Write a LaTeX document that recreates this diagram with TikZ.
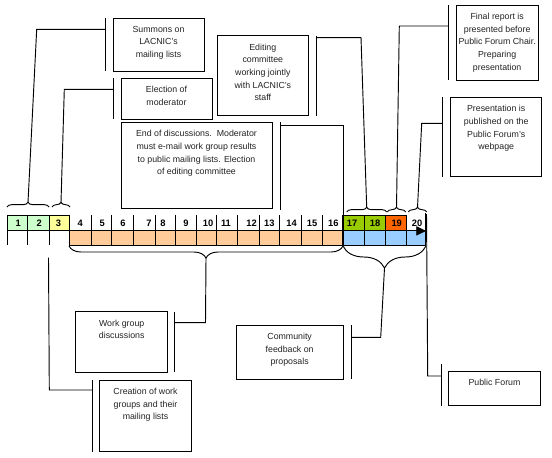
\documentclass[tikz,border=0pt]{standalone}
\usepackage{fontspec}
\setmainfont{Liberation Sans}
\usepackage{tikz}
\usetikzlibrary{arrows.meta,decorations.pathreplacing,fit,positioning}
\definecolor{paleGreen}{HTML}{CCFFCC}
\definecolor{paleYellow}{HTML}{FFFF99}
\definecolor{apricot}{HTML}{FFCC99}
\definecolor{limeGreen}{HTML}{99CC00}
\definecolor{redOrange}{HTML}{FF6600}
\definecolor{skyBlue}{HTML}{99CCFF}
\definecolor{inkGray}{HTML}{222222}

\begin{document}
\begin{tikzpicture}[x=0.75pt, y=-0.75pt, line width=0.7pt]
	\tikzstyle{note}     = [draw, inner sep=0pt]
	\tikzstyle{notetext} = [inner sep=0pt, align=center, text=inkGray, font=\fontsize{6.6}{9.5}\selectfont]
	\tikzstyle{day}      = [inner sep=0pt, font=\fontsize{7}{8}\selectfont\bfseries]
	\tikzstyle{topbrace} = [decorate, decoration={brace, amplitude=3.5pt}]
	\useasboundingbox (0,0) rectangle (552,457);

	% timeline
	\fill[paleGreen]  (7,215)      rectangle (49,230.7);
	\fill[paleYellow] (49,215)     rectangle (69,230.7);
	\fill[limeGreen]  (343.3,215)  rectangle (385.7,230.7);
	\fill[redOrange]  (385.7,215)  rectangle (406.7,230.7);
	\fill[apricot]    (69,230.7)   rectangle (343.3,245);
	\fill[skyBlue]    (343.3,230.7) rectangle (425,245);
	\draw (7,215) rectangle (69,230.7);
	\draw (343.3,215) rectangle (406.7,230.7);
	\draw (69,230.7) rectangle (425,245);
	\foreach \x in {7,27,49,69,91.7,111.7,133.3,155,175,196,216,237.3,259,279.3,301.7,322.7,364.3,385.7,406.7}
		\draw (\x,215) -- (\x,245);
	\draw (425,213) -- (425,245);
	\draw[line width=1.4pt] (343.3,215) -- (343.3,245);
	\draw[-{Triangle[length=7.3pt,width=7pt]}] (7,230.9) -- (426,230.9);
	\foreach \n/\tx in {1/18.3, 2/39.3, 3/58.5, 4/80.3, 5/102.3, 6/123, 7/149, 8/163, 9/186, 10/208,
		11/226, 12/251.5, 13/269.3, 14/291.5, 15/312, 16/333.3, 17/352, 18/375, 19/396.7, 20/417}
		\node[day] (day\n) at (\tx,223) {\n};

	% braces
	\draw[topbrace] (7,207)     -- (49,207);
	\draw[topbrace] (52,207)    -- (70,207);
	\draw[topbrace] (346.7,212) -- (386.7,212);
	\draw[topbrace] (387.3,212) -- (405.7,212);
	\draw[topbrace] (408.3,212) -- (426.7,212);
	\draw[decorate, decoration={brace, amplitude=9pt}]    (343,246) -- (69,246);
	\draw[decorate, decoration={brace, amplitude=16.5pt}] (426,246) -- (343,246);
	\coordinate (tip12)   at (28,202.5);
	\coordinate (tip3)    at (61,202.5);
	\coordinate (tip1718) at (366.7,207.5);
	\coordinate (tip19)   at (396.5,207.5);
	\coordinate (tip20)   at (417.5,207.5);
	\coordinate (tip416)  at (206,258);
	\coordinate (tip1720) at (384.5,268);
	\coordinate (end16)   at (343.3,215);
	\coordinate (end20)   at (426.5,214);

	% callouts above
	\node[note, fit={(113,18) (204,71)}] (summons) {};
	\node[notetext, below=6pt of summons.north] (summons-txt) {Summons on\\LACNIC's\\mailing lists};
	\draw (105,18) -- (105,71);
	\coordinate (summons-bar) at (105,29.3);
	\draw (summons-bar) -- (36.7,29.3) -- (tip12);

	\node[note, fit={(121,78) (212,119)}] (moderator) {};
	\node[notetext, below=6pt of moderator.north] (moderator-txt) {Election of\\moderator};
	\draw (113.3,78) -- (113.3,119);
	\coordinate (moderator-bar) at (113.3,89.3);
	\draw (moderator-bar) -- (64.3,89.3) -- (tip3);

	\node[note, fit={(217.3,35.7) (308.3,115.7)}] (editing) {};
	\node[notetext, below=6pt of editing.north] (editing-txt) {Editing\\committee\\working jointly\\with LACNIC's\\staff};
	\draw (316,35.7) -- (316,115.7);
	\coordinate (editing-bar) at (316,37.7);
	\draw (editing-bar) -- (361,37.7) -- (tip1718);

	\node[note, fit={(121,122.3) (272,208)}] (closing) {};
	\node[notetext, below=6pt of closing.north] (closing-txt) {End of discussions.\ \ Moderator\\must e-mail work group results\\to public mailing lists. Election\\of editing committee};
	\draw (280,122.3) -- (280,210);
	\coordinate (closing-bar) at (280,125);
	\draw (closing-bar) -- (343.3,125) -- (end16);

	\node[note, fit={(456,5) (538.3,80)}] (report) {};
	\node[notetext, below=6pt of report.north] (report-txt) {Final report is\\presented before\\Public Forum Chair.\\Preparing\\presentation};
	\draw (448.3,5) -- (448.3,80);
	\coordinate (report-bar) at (448.3,26);
	\draw (report-bar) -- (399.3,26) -- (tip19);

	\node[note, fit={(450.7,97.3) (541.7,176.7)}] (webpage) {};
	\node[notetext, below=6pt of webpage.north] (webpage-txt) {Presentation is\\published on the\\Public Forum's\\webpage};
	\draw (442.3,97.3) -- (442.3,176.7);
	\coordinate (webpage-bar) at (442.3,123.3);
	\draw (webpage-bar) -- (421.7,123.3) -- (tip20);

	% callouts below
	\node[note, fit={(75.7,311.7) (167.7,372.3)}] (groupwork) {};
	\node[notetext, below=6pt of groupwork.north] (groupwork-txt) {Work group\\discussions};
	\draw (174.3,311.7) -- (174.3,372.3);
	\coordinate (groupwork-bar) at (174.3,322.7);
	\draw (groupwork-bar) -- (205.5,322.7) -- (tip416);

	\node[note, fit={(99.3,380) (191.7,451.7)}] (creation) {};
	\node[notetext, below=6pt of creation.north] (creation-txt) {Creation of work\\groups and their\\mailing lists};
	\draw (92.3,380) -- (92.3,451.7);
	\coordinate (creation-bar) at (92.3,390);
	\coordinate (creation-end) at (48.5,257.5);
	\draw (creation-bar) -- (49.3,390) -- (creation-end);

	\node[note, fit={(236,325) (343.3,379.3)}] (feedback) {};
	\node[notetext, below=6pt of feedback.north] (feedback-txt) {Community\\feedback on\\proposals};
	\draw (351,325) -- (351,379.3);
	\coordinate (feedback-bar) at (351,337.3);
	\draw (feedback-bar) -- (380.7,337.3) -- (tip1720);

	\node[note, fit={(448.3,371) (540.7,405)}] (forum) {};
	\node[notetext, below=6pt of forum.north] (forum-txt) {Public Forum};
	\draw (441.7,364) -- (441.7,405.7);
	\coordinate (forum-bar) at (441.7,376);
	\draw (forum-bar) -- (427.7,376) -- (end20);
\end{tikzpicture}
\end{document}
